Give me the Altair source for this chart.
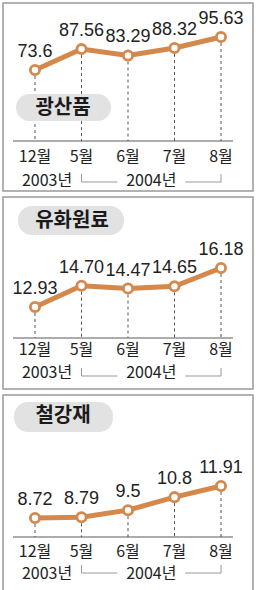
import altair as alt
import pandas as pd

# ---- data ----
months = ["12월", "5월", "6월", "7월", "8월"]
years = ["2003년", "2004년"]
titles = ["광산품", "유화원료", "철강재"]
mining = [73.6, 87.56, 83.29, 88.32, 95.63]
petro = [12.93, 14.70, 14.47, 14.65, 16.18]
steel = [8.72, 8.79, 9.5, 10.8, 11.91]
mining_lbl = ["73.6", "87.56", "83.29", "88.32", "95.63"]
petro_lbl = ["12.93", "14.70", "14.47", "14.65", "16.18"]
steel_lbl = ["8.72", "8.79", "9.5", "10.8", "11.91"]

ORANGE = "#d4884c"
NUM_FONT = "Liberation Sans Narrow, Liberation Sans"
KR_FONT = "Liberation Sans Narrow, Noto Sans CJK KR"
W = 250

xscale = alt.Scale(domain=[0, 4], range=[32, 218])


def panel(title, values, labels, height, yrange, base_y, month_y, year_y,
          br_y, pill, pill_text):
    df = pd.DataFrame({"i": list(range(len(values))), "v": values,
                       "lbl": labels, "m": months})
    yscale = alt.Scale(domain=[min(values), max(values)], range=yrange)
    X = alt.X("i:Q", scale=xscale, axis=None)
    Y = alt.Y("v:Q", scale=yscale, axis=None)
    base = alt.Chart(df)

    drops = base.mark_rule(color="#555555", strokeWidth=1,
                           strokeDash=[3, 3]).encode(x=X, y=Y, y2=alt.value(base_y))
    baseline = base.mark_rule(color="#aaaaaa", strokeWidth=1).encode(
        x=alt.value(10), x2=alt.value(230), y=alt.value(base_y))
    pill_rect = alt.Chart(pd.DataFrame({"t": [title]})).mark_rect(
        fill="#e2e2e2", cornerRadius=14).encode(
        x=alt.value(pill[0]), x2=alt.value(pill[1]),
        y=alt.value(pill[2]), y2=alt.value(pill[3]))
    pill_lbl = alt.Chart(pd.DataFrame({"t": [title]})).mark_text(
        font="Noto Sans CJK KR", fontSize=20, fontWeight="bold", color="#1a1a1a",
        baseline="middle", align="center").encode(
        x=alt.value(pill_text[0]), y=alt.value(pill_text[1]), text="t:N")
    line = base.mark_line(color=ORANGE, strokeWidth=5).encode(x=X, y=Y)
    pts = base.mark_point(shape="circle", filled=True, fill="white", stroke=ORANGE,
                          strokeWidth=2.8, size=85, opacity=1).encode(x=X, y=Y)
    vals = base.mark_text(font=NUM_FONT, fontSize=18, color="#222222",
                          baseline="middle", dy=-18).encode(x=X, y=Y, text="lbl:N")
    mon = base.mark_text(font=KR_FONT, fontSize=16, color="#222222",
                         baseline="middle").encode(x=X, y=alt.value(month_y), text="m:N")

    ydf = pd.DataFrame({"i": [0, 2.5], "yr": years})
    yr1 = alt.Chart(ydf.iloc[[0]]).mark_text(font=KR_FONT, fontSize=16, color="#222222",
                                             baseline="middle", dx=12).encode(
        x=X, y=alt.value(year_y), text="yr:N")
    yr2 = alt.Chart(ydf.iloc[[1]]).mark_text(font=KR_FONT, fontSize=16, color="#222222",
                                             baseline="middle").encode(
        x=X, y=alt.value(year_y), text="yr:N")

    start, end = 1, len(values) - 1
    mid = (start + end) / 2
    gap = 0.73
    seg = pd.DataFrame({"i": [start, mid + gap], "i2": [mid - gap, end]})
    br_h = alt.Chart(seg).mark_rule(color="#999999", strokeWidth=1).encode(
        x=X, x2="i2:Q", y=alt.value(br_y))
    tk = pd.DataFrame({"i": [start, end]})
    br_v = alt.Chart(tk).mark_rule(color="#999999", strokeWidth=1).encode(
        x=X, y=alt.value(br_y - 8), y2=alt.value(br_y))

    return alt.layer(baseline, drops, pill_rect, pill_lbl, line, pts, vals, mon,
                     yr1, yr2, br_h, br_v).properties(width=W, height=height)


p1 = panel(titles[0], mining, mining_lbl, 188, [67, 34], 138, 154, 178, 179,
           (13, 108, 91, 118), (60, 105))
p2 = panel(titles[1], petro, petro_lbl, 192, [110, 71], 141, 153, 176, 179,
           (15, 121, 9, 38), (69, 24))
p3 = panel(titles[2], steel, steel_lbl, 196, [123, 91], 142, 157, 179, 178,
           (11, 110, 7, 37), (60, 21))

chart = alt.vconcat(p1, p2, p3, spacing=4).properties(
    padding={"left": 2, "top": 2, "right": 2, "bottom": 2},
    background="white",
).configure_view(stroke="#999999", strokeWidth=1.5)

chart.save("out.html", embed_options={"renderer": "svg", "actions": False})
